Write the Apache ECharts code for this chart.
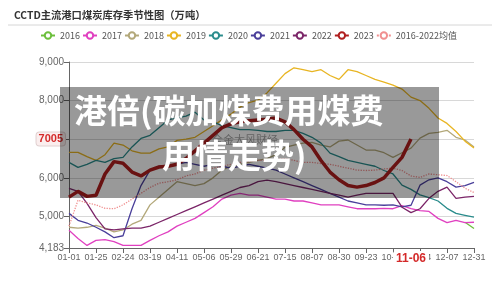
<!DOCTYPE html>
<html><head><meta charset="utf-8">
<script src="https://cdn.jsdelivr.net/npm/echarts@6/dist/echarts.min.js"></script>
<style>html,body{margin:0;padding:0;background:#fff}#c{width:500px;height:285px}</style>
</head><body><div id="c"></div>
<script>
const titleText = 'CCTD主流港口煤炭库存季节性图（万吨）';
const dates = ['01-01','01-09','01-17','01-25','02-04','02-14','02-24','03-04','03-11','03-19','03-27','04-03','04-11','04-19','04-28','05-06','05-14','05-21','05-29','06-06','06-13','06-21','06-29','07-07','07-15','07-23','07-30','08-07','08-15','08-22','08-30','09-07','09-15','09-23','09-30','10-08','10-16','10-27','11-06','11-14','11-22','11-29','12-07','12-15','12-23','12-31'];
const yTicks = [4183, 5000, 6000, 7000, 8000, 9000];
const yLabels = [4183, 5000, 6000, 8000, 9000];
const seriesNames = ['2016','2017','2018','2019','2020','2021','2022','2023','2016-2022均值'];
const s2016 = [null,null,null,null,null,null,null,null,null,null,null,null,null,null,null,null,null,null,null,null,null,null,null,null,null,null,null,null,null,null,null,null,null,null,null,null,null,null,null,null,null,null,null,null,4850,4690];
const s2017 = [4640,4430,4250,4380,4400,4350,4250,4250,4250,4380,4500,4600,4750,4850,4950,5100,5250,5450,5550,5600,5550,5550,5500,5450,5450,5400,5400,5350,5300,5300,5300,5250,5200,5200,5200,5210,5200,5280,5200,5150,5130,4950,4840,4900,4840,4850];
const s2018 = [4720,4700,4720,4770,4700,4600,4650,4800,4900,5300,5500,5700,5900,5850,5800,5850,6000,6200,6300,6350,6400,6450,6500,6600,6790,6850,6900,6920,6850,6800,6950,6980,6850,6720,6720,6650,6530,6650,6770,7030,7150,7180,7230,7050,6980,6800];
const s2019 = [6660,6660,6550,6450,6600,6900,6850,6700,6640,6640,6750,6800,6970,7000,7050,7200,7350,7500,7650,7830,7950,8010,8200,8450,8700,8850,8800,8750,8800,8650,8550,8800,8750,8650,8550,8480,8400,8300,8090,8000,7800,7550,7410,7200,6950,6770];
const s2020 = [6400,6270,6350,6450,6400,6500,6530,6800,7020,7100,7300,7500,7550,7600,7700,7500,7450,7350,7300,7250,7250,7230,7200,7200,7230,7230,7150,7050,6900,6640,6550,6450,6400,6350,6300,6190,6100,5810,5700,5560,5490,5400,5210,5080,5030,4980];
const s2021 = [5080,4900,4830,4720,4600,4450,4500,5200,5800,6200,6300,6330,6350,6400,6350,6300,6350,6300,6250,6300,6350,6300,6250,6200,6100,6000,5900,5800,5700,5600,5500,5400,5350,5300,5300,5290,5300,5250,5290,5810,5950,6000,5900,5760,5800,5880];
const s2022 = [5730,5650,5340,4970,4680,4650,4680,4700,4700,4750,4850,4950,5050,5150,5250,5350,5450,5550,5650,5750,5800,5900,5940,5900,5850,5800,5750,5700,5650,5600,5550,5500,5550,5600,5600,5600,5600,5240,5100,5200,5470,5650,5760,5470,5500,5520];
const s2023 = [5500,5650,5520,5550,6100,6420,6380,6150,6050,6200,6280,6300,6350,6500,6700,6900,7100,7300,7400,7450,7480,7500,7520,7550,7450,7250,7000,6800,6450,6150,5950,5800,5760,5800,5880,6000,6270,6530,7005];
const sAvg = [4750,5420,5350,5300,5210,5200,5300,5450,5600,5750,5860,5900,5950,6050,6100,6200,6250,6300,6350,6400,6420,6450,6450,6480,6500,6450,6400,6400,6370,6350,6300,6250,6200,6190,6200,6230,6250,6190,6050,6010,6100,6080,6060,5900,5730,5620];
const colors = ['#6cbf3c','#e040c0','#b3a87a','#e8b523','#2a8c8c','#4a3f9a','#7b2568','#b01e1e','#f09090'];
const allData = [s2016,s2017,s2018,s2019,s2020,s2021,s2022,s2023,sAvg];

const chart = echarts.init(document.getElementById('c'), null, {renderer:'canvas'});
const series = allData.map((d, k) => ({
  name: seriesNames[k], type: 'line', data: d, symbol: 'emptyCircle', showSymbol: false,
  smooth: false, z: k === 7 ? 5 : 2,
  lineStyle: { color: colors[k], width: k === 7 ? 3.5 : 1.3, type: k === 8 ? 'dotted' : 'solid' },
  itemStyle: { color: colors[k] }
}));
chart.setOption({
  animation: false,
  color: colors,
  title: { text: titleText, left: 9, top: 5, textStyle: { fontFamily: 'Noto Sans CJK SC', fontSize: 10.3, fontWeight: 'bold', color: '#333' } },
  legend: { top: 26, left: 35, itemWidth: 14, itemHeight: 8, itemGap: 2, textStyle: { fontSize: 9, color: '#555', fontFamily: 'Noto Sans CJK SC' }, data: seriesNames },
  grid: { left: 69, right: 26, top: 62, bottom: 37 },
  xAxis: {
    type: 'category', boundaryGap: false, data: dates,
    axisLine: { lineStyle: { color: '#666' } },
    axisTick: { interval: 2, lineStyle: { color: '#666' } },
    axisLabel: { interval: 2, fontSize: 9, color: '#666', margin: 5 },
    axisPointer: { show: true, status: 'show', value: 38, lineStyle: { opacity: 0 },
      label: { show: true, color: '#d42a2a', fontWeight: 'bold', fontSize: 12, backgroundColor: '#fff', padding: [2,3], margin: 3 } }
  },
  yAxis: {
    type: 'value', min: 4183, max: 9000,
    axisLine: { show: true, lineStyle: { color: '#666' } },
    axisTick: { show: true, customValues: yTicks, lineStyle: { color: '#666' } },
    axisLabel: { customValues: yLabels, fontSize: 10, color: '#666', margin: 5 },
    splitLine: { show: true, lineStyle: { color: '#d8d8d8' } },
    axisPointer: { show: true, status: 'show', value: 7005, lineStyle: { opacity: 0 },
      label: { show: true, color: '#d42a2a', fontWeight: 'bold', fontSize: 11, backgroundColor: '#fbeeee', borderColor: '#e0d0d0', borderWidth: 1, padding: [1,2], margin: 4, formatter: p => Math.round(p.value) } }
  },
  series: series,
  graphic: [
    { type: 'line', shape: { x1: 8, y1: 25, x2: 492, y2: 25 }, style: { stroke: '#d6d6d6', lineWidth: 1 }, z: 1 },
    { type: 'rect', shape: { x: 60, y: 87, width: 379, height: 111 }, style: { fill: 'rgba(0,0,0,0.4)' }, z: 100 },
    { type: 'text', left: 212, top: 134, style: { text: '全金大风财经', fontSize: 11, fill: 'rgba(60,60,60,0.6)', fontFamily: 'Noto Sans CJK SC' }, z: 101 },
    { type: 'text', left: 74, top: 94, style: { text: '港倍(碳加煤费用煤费', fontSize: 33, fontWeight: 'bold', fill: '#fff', fontFamily: 'Noto Sans CJK SC' }, z: 102 },
    { type: 'text', left: 162, top: 139, style: { text: '用情走势)', fontSize: 33, fontWeight: 'bold', fill: '#fff', fontFamily: 'Noto Sans CJK SC' }, z: 102 }
  ]
});
</script></body></html>
